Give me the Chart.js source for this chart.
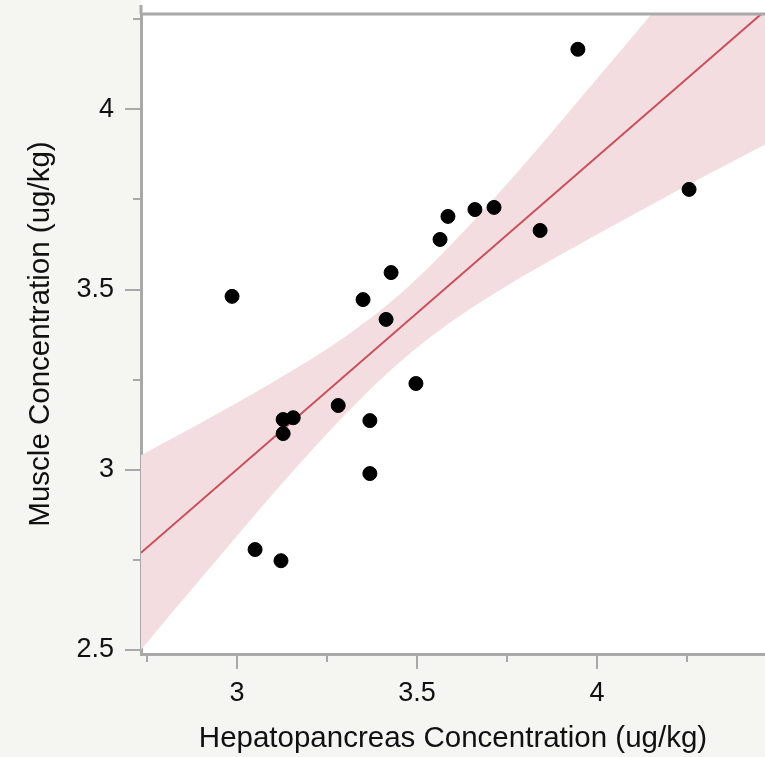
<!DOCTYPE html>
<html>
<head>
<meta charset="utf-8">
<script src="https://cdn.jsdelivr.net/npm/chart.js@4/dist/chart.umd.min.js"></script>
<style>
  html, body { margin: 0; padding: 0; background: #f5f5f1; }
  canvas { display: block; }
</style>
</head>
<body>
<canvas id="fit-chart" width="765" height="757"></canvas>
<script>
// measured points (ug/kg)
const hepato = [3.947, 4.256, 2.986, 3.586, 3.661, 3.714, 3.564, 3.842, 3.428, 3.35,
                3.414, 3.497, 3.281, 3.128, 3.156, 3.369, 3.128, 3.369, 3.05, 3.122]
const muscle = [4.167, 3.778, 3.481, 3.703, 3.722, 3.728, 3.639, 3.664, 3.547, 3.472,
                3.417, 3.239, 3.178, 3.139, 3.144, 3.136, 3.1, 2.989, 2.778, 2.747]

// fitted line ends and the shaded confidence band
const fitX = [2.733, 4.467]
const fitY = [2.769, 4.274]
const bandX = [2.733, 2.9, 3.1, 3.3, 3.45, 3.6, 3.8, 4.0, 4.15, 4.3, 4.467]
const bandUpper = [3.04, 3.13, 3.243, 3.369, 3.485, 3.63, 3.85, 4.085, 4.263, 4.443, 4.645]
const bandLower = [2.50, 2.698, 2.933, 3.153, 3.297, 3.414, 3.54, 3.653, 3.735, 3.815, 3.903]

// axis ticks
const xTicks = [3, 3.5, 4]
const xMinor = [2.75, 3.25, 3.75, 4.25]
const yTicks = [2.5, 3, 3.5, 4]
const yMinor = [2.75, 3.25, 3.75, 4.25]

const AXIS = '#a9a9a9'
const FONT = '"Liberation Sans", Arial, Helvetica, sans-serif'

const toXY = (xs, ys) => xs.map((x, i) => ({ x: x, y: ys[i] }))

// white plot panel, top rule and the short minor ticks
const frame = {
  id: 'frame',
  beforeDraw(chart) {
    const { ctx, chartArea } = chart
    ctx.save()
    ctx.fillStyle = '#f5f5f1'
    ctx.fillRect(0, 0, chart.width, chart.height)
    ctx.fillStyle = '#ffffff'
    ctx.fillRect(chartArea.left, 0, chart.width - chartArea.left, chartArea.bottom)
    ctx.restore()
  },
  afterDraw(chart) {
    const { ctx, chartArea } = chart
    const xs = chart.scales.x
    const ys = chart.scales.y
    ctx.save()
    ctx.strokeStyle = AXIS
    ctx.lineWidth = 3
    ctx.beginPath()
    ctx.moveTo(chartArea.left, chartArea.top)
    ctx.lineTo(chart.width, chartArea.top)
    ctx.stroke()
    ctx.beginPath()
    ctx.moveTo(chartArea.left, chartArea.top)
    ctx.lineTo(chartArea.left, 5)
    ctx.stroke()
    ctx.lineWidth = 2
    xMinor.forEach(v => {
      const px = Math.round(xs.getPixelForValue(v))
      ctx.beginPath()
      ctx.moveTo(px, chartArea.bottom)
      ctx.lineTo(px, chartArea.bottom + 8)
      ctx.stroke()
    })
    yMinor.forEach(v => {
      const py = Math.round(ys.getPixelForValue(v))
      ctx.beginPath()
      ctx.moveTo(chartArea.left - 8, py)
      ctx.lineTo(chartArea.left, py)
      ctx.stroke()
    })
    ctx.restore()
  }
}

new Chart(document.getElementById('fit-chart'), {
  type: 'scatter',
  data: {
    datasets: [
      {
        label: 'Samples',
        data: toXY(hepato, muscle),
        backgroundColor: '#000000',
        borderColor: '#000000',
        pointRadius: 7,
        pointHoverRadius: 7,
      },
      {
        label: 'Fit',
        data: toXY(fitX, fitY),
        showLine: true,
        borderColor: '#c8505a',
        borderWidth: 2,
        pointRadius: 0,
        fill: false,
      },
      {
        label: 'Upper',
        data: toXY(bandX, bandUpper),
        showLine: true,
        borderWidth: 0,
        borderColor: 'rgba(0,0,0,0)',
        backgroundColor: '#f3dde0',
        pointRadius: 0,
        cubicInterpolationMode: 'monotone',
        fill: '+1',
      },
      {
        label: 'Lower',
        data: toXY(bandX, bandLower),
        showLine: true,
        borderWidth: 0,
        borderColor: 'rgba(0,0,0,0)',
        pointRadius: 0,
        cubicInterpolationMode: 'monotone',
        fill: false,
      },
    ],
  },
  options: {
    responsive: false,
    animation: false,
    layout: { autoPadding: false, padding: { top: 14, right: 0, left: 0, bottom: 0 } },
    plugins: {
      legend: { display: false },
      tooltip: { enabled: false },
    },
    scales: {
      x: {
        type: 'linear',
        min: 2.733,
        max: 4.467,
        afterBuildTicks: (scale) => { scale.ticks = xTicks.map(v => ({ value: v })) },
        afterFit: (scale) => {
          scale.height = 103
          scale.paddingLeft = 0
          scale.paddingRight = 0
        },
        grid: { drawOnChartArea: false, color: AXIS, lineWidth: 2, tickLength: 15 },
        border: { color: AXIS, width: 3 },
        ticks: {
          color: '#111111',
          padding: 8,
          maxRotation: 0,
          font: { family: FONT, size: 27 },
          callback: (v) => String(v),
        },
        title: {
          display: true,
          text: 'Hepatopancreas Concentration (ug/kg)',
          color: '#111111',
          font: { family: FONT, size: 29.5 },
          padding: { top: 5, bottom: 0 },
        },
      },
      y: {
        type: 'linear',
        min: 2.488,
        max: 4.265,
        afterBuildTicks: (scale) => { scale.ticks = yTicks.map(v => ({ value: v })) },
        afterFit: (scale) => {
          scale.width = 141
          scale.paddingTop = 0
          scale.paddingBottom = 0
        },
        grid: { drawOnChartArea: false, color: AXIS, lineWidth: 2, tickLength: 16 },
        border: { color: AXIS, width: 3 },
        ticks: {
          color: '#111111',
          padding: 11,
          font: { family: FONT, size: 27 },
          callback: (v) => String(v),
        },
        title: {
          display: true,
          text: 'Muscle Concentration (ug/kg)',
          color: '#111111',
          font: { family: FONT, size: 29.5 },
          padding: { top: 23, bottom: 0 },
        },
      },
    },
  },
  plugins: [frame],
})
</script>
</body>
</html>
